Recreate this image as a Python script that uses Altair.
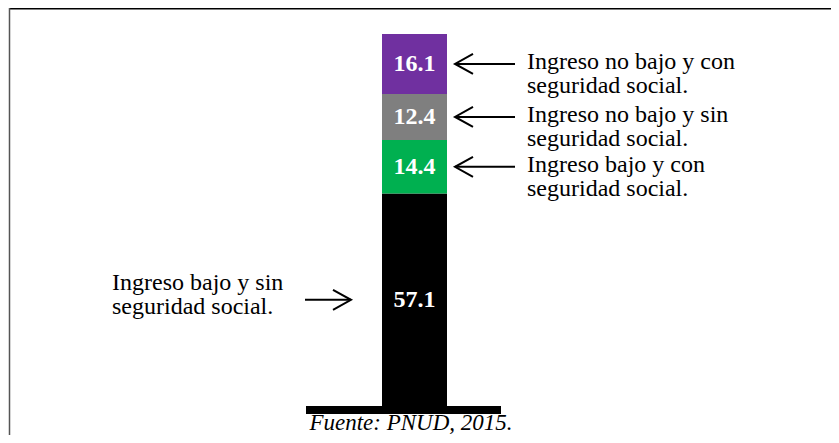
import altair as alt
import pandas as pd

# ---- data ----
categorias = [
    "Ingreso bajo y sin seguridad social.",
    "Ingreso bajo y con seguridad social.",
    "Ingreso no bajo y sin seguridad social.",
    "Ingreso no bajo y con seguridad social.",
]
valores = [57.1, 14.4, 12.4, 16.1]
etiquetas = [
    "Ingreso bajo y sin\nseguridad social.",
    "Ingreso bajo y con\nseguridad social.",
    "Ingreso no bajo y sin\nseguridad social.",
    "Ingreso no bajo y con\nseguridad social.",
]
lados = ["izquierda", "derecha", "derecha", "derecha"]
colores = ["#000000", "#00B050", "#7F7F7F", "#7030A0"]
barra = ["Total", "Total", "Total", "Total"]
fuente = ["Fuente: PNUD, 2015."]

df = pd.DataFrame({
    "categoria": categorias,
    "valor": valores,
    "etiqueta": etiquetas,
    "lado": lados,
    "orden": list(range(len(valores))),
    "barra": barra,
})

W, H = 823, 427
SERIF = "Liberation Serif"

y_scale = alt.Scale(domain=[-7.796, 106.989], nice=False, zero=False)
x_scale = alt.Scale(domain=["Total"], range=[0, 813], paddingInner=0, paddingOuter=0)

base = alt.Chart(df).transform_window(
    fin="sum(valor)", sort=[alt.SortField("orden")], frame=[None, 0]
).transform_calculate(
    inicio="datum.fin - datum.valor",
    medio="datum.fin - datum.valor / 2",
)

bar = base.mark_bar(size=65).encode(
    x=alt.X("barra:N", scale=x_scale, axis=None),
    y=alt.Y("inicio:Q", scale=y_scale, axis=None),
    y2="fin:Q",
    color=alt.Color("categoria:N", scale=alt.Scale(domain=categorias, range=colores), legend=None),
)

valores_txt = base.mark_text(
    font=SERIF, fontSize=24, fontWeight="bold", color="white", baseline="middle"
).encode(
    x=alt.X("barra:N", scale=x_scale, axis=None),
    y=alt.Y("medio:Q", scale=y_scale, axis=None),
    text=alt.Text("valor:Q", format=".1f"),
)

der = base.transform_filter("datum.lado == 'derecha'")
izq = base.transform_filter("datum.lado == 'izquierda'")

der_rule = der.mark_rule(strokeWidth=2, color="black").encode(
    x=alt.value(447), x2=alt.value(507), y=alt.Y("medio:Q", scale=y_scale, axis=None)
)
der_head = der.mark_point(
    shape="M0.9,-1L-0.9,0L0.9,1", size=400, filled=False, strokeWidth=2,
    color="black", opacity=1
).encode(x=alt.value(456), y=alt.Y("medio:Q", scale=y_scale, axis=None))
der_txt = der.mark_text(
    font=SERIF, fontSize=24, align="left", baseline="alphabetic", dy=5,
    lineBreak="\n", lineHeight=24, color="black"
).encode(x=alt.value(519), y=alt.Y("medio:Q", scale=y_scale, axis=None), text="etiqueta:N")

izq_rule = izq.mark_rule(strokeWidth=2, color="black").encode(
    x=alt.value(297), x2=alt.value(343), y=alt.Y("medio:Q", scale=y_scale, axis=None)
)
izq_head = izq.mark_point(
    shape="M-0.9,-1L0.9,0L-0.9,1", size=400, filled=False, strokeWidth=2,
    color="black", opacity=1
).encode(x=alt.value(334), y=alt.Y("medio:Q", scale=y_scale, axis=None))
izq_txt = izq.mark_text(
    font=SERIF, fontSize=24, align="left", baseline="alphabetic", dy=-10,
    lineBreak="\n", lineHeight=24, color="black"
).encode(x=alt.value(104), y=alt.Y("medio:Q", scale=y_scale, axis=None), text="etiqueta:N")

base_line = alt.Chart(pd.DataFrame({"nivel": [0]})).mark_rect(color="black").encode(
    x=alt.value(298), x2=alt.value(493),
    y=alt.Y("nivel:Q", scale=y_scale, axis=None), y2=alt.value(406),
)

borde_sup = alt.Chart(pd.DataFrame({"b": [0]})).mark_rule(color="black", strokeWidth=1.5).encode(
    x=alt.value(1), x2=alt.value(W), y=alt.value(0.75)
)
borde_izq = alt.Chart(pd.DataFrame({"b": [0]})).mark_rule(color="#555555", strokeWidth=1.5).encode(
    x=alt.value(1.5), y=alt.value(0), y2=alt.value(H)
)

fuente_txt = alt.Chart(pd.DataFrame({"t": fuente})).mark_text(
    font=SERIF, fontSize=23, fontStyle="italic", align="center", baseline="alphabetic", color="black"
).encode(x=alt.value(403), y=alt.value(421.5), text="t:N")

chart = alt.layer(
    bar, valores_txt, der_rule, der_head, der_txt, izq_rule, izq_head, izq_txt,
    base_line, borde_sup, borde_izq, fuente_txt
).properties(
    width=W, height=H, padding=0, autosize=alt.AutoSizeParams(type="none")
).configure_view(stroke=None)

chart.save("out.html", embed_options={"renderer": "svg", "actions": False})
